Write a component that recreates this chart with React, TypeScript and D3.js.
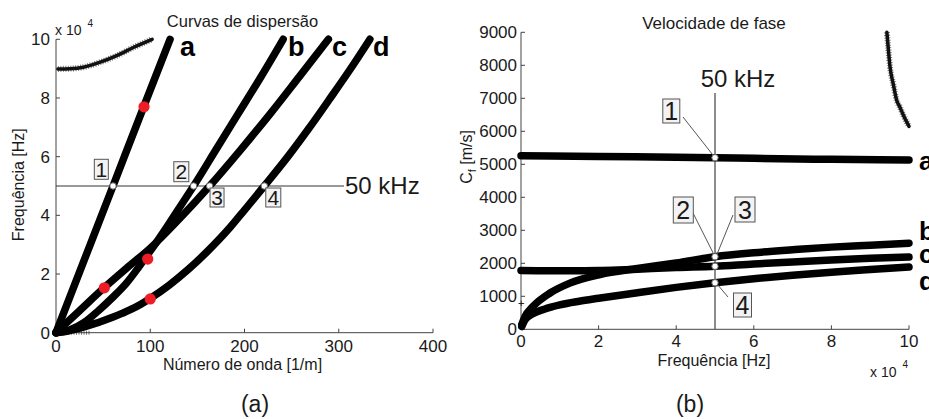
import React from "react";
import * as d3 from "d3";

// ---------- Dispersion curves: wave number k [1/m] vs frequency f [x1e4 Hz] ----------
const modeA: [number, number][] = [[0, 0], [30, 2.48], [60.5, 5], [93, 7.7], [121, 10]];
const modeB: [number, number][] = [
  [0, 0], [15, 0.1], [30, 0.35], [45, 0.75], [60, 1.2], [75, 1.7], [87, 2.2], [97, 2.65],
  [108, 3.15], [120, 3.72], [133, 4.36], [146, 5.0], [170, 6.25], [194, 7.5], [218, 8.75], [241, 10],
];
const modeC: [number, number][] = [
  [0, 0], [25, 0.75], [51, 1.53], [75, 2.2], [100, 2.88], [130, 3.85], [163, 5.0], [195, 6.2],
  [227, 7.45], [258, 8.72], [289, 10],
];
const modeD: [number, number][] = [
  [0, 0], [10, 0.04], [20, 0.11], [30, 0.2], [40, 0.3], [50, 0.41], [60, 0.53], [70, 0.66],
  [80, 0.8], [90, 0.97], [100, 1.17], [120, 1.62], [140, 2.15], [160, 2.75], [185, 3.6],
  [200, 4.18], [221, 5.0], [246, 6.0], [268, 6.95], [290, 7.95], [312, 8.97], [333, 10],
];
const modeHigh: [number, number][] = [[2, 8.99], [15, 9.0], [29, 9.05], [47, 9.22], [65, 9.45], [82, 9.72], [102, 10]];
const redDots: [number, number][] = [[51.3, 1.53], [97.3, 2.51], [100, 1.15], [93.4, 7.7]];
const kAt50kHz = [60.5, 146, 163, 221];

const kTicks = [0, 100, 200, 300, 400];
const fTicks = [0, 2, 4, 6, 8, 10];

// ---------- Phase velocity: frequency f [x1e4 Hz] vs c_f [m/s] ----------
const velA: [number, number][] = [[0, 5260], [2, 5240], [4, 5210], [5, 5200], [6, 5180], [8, 5150], [10, 5130]];
const velB: [number, number][] = [
  [0.02, 150], [0.1, 380], [0.3, 680], [0.75, 1100], [1.26, 1400], [2.04, 1660], [3, 1840],
  [4, 2010], [5, 2200], [6, 2320], [7, 2410], [8, 2490], [9, 2550], [10, 2610],
];
const velC: [number, number][] = [
  [0, 1780], [1, 1775], [2, 1780], [2.5, 1795], [3, 1820], [4, 1870], [5, 1910], [6, 1980],
  [7, 2040], [8, 2100], [9, 2150], [10, 2190],
];
const velD: [number, number][] = [
  [0.02, 80], [0.1, 280], [0.3, 470], [0.6, 610], [1, 740], [1.5, 850], [2, 940], [3, 1110],
  [4, 1270], [5, 1410], [6, 1530], [7, 1640], [8, 1730], [9, 1810], [10, 1890],
];
const velHigh: [number, number][] = [[9.43, 9000], [9.47, 8450], [9.51, 7960], [9.6, 7400], [9.68, 6950], [9.77, 6720], [9.85, 6500], [10, 6150]];
const velAt50kHz = [2200, 1910, 1410];
const vel1At50kHz = 5200;

const freqTicks = [0, 2, 4, 6, 8, 10];
const velTicks = [0, 1000, 2000, 3000, 4000, 5000, 6000, 7000, 8000, 9000];

const FONT = "'Liberation Sans', Arial, sans-serif";
const INK = "#1a1a1a";
const AXIS = "#444";

function Box({ cx, cy, w, h, label, size }: { cx: number; cy: number; w: number; h: number; label: string; size: number }) {
  return (
    <g>
      <rect x={cx - w / 2} y={cy - h / 2} width={w} height={h} fill="#f3f3f3" stroke="#555" strokeWidth={1} />
      <text x={cx} y={cy + size * 0.36} textAnchor="middle" fontSize={size} fill={INK} fontFamily={FONT}>{label}</text>
    </g>
  );
}

export default function App() {
  // left panel scales
  const xL = d3.scaleLinear().domain([0, 400]).range([56, 433]);
  const yL = d3.scaleLinear().domain([0, 10]).range([332.7, 39.3]);
  // right panel scales
  const xR = d3.scaleLinear().domain([0, 10]).range([521, 909]);
  const yR = d3.scaleLinear().domain([0, 9000]).range([329.3, 32.3]);

  const lineL = d3.line<[number, number]>().x((d) => xL(d[0])).y((d) => yL(d[1])).curve(d3.curveMonotoneX);
  const lineR = d3.line<[number, number]>().x((d) => xR(d[0])).y((d) => yR(d[1])).curve(d3.curveMonotoneX);

  const thick = { fill: "none", stroke: "#000", strokeWidth: 7.5, strokeLinecap: "round" as const, strokeLinejoin: "round" as const };
  const starry = { fill: "none", stroke: "#111", strokeWidth: 4.5, strokeLinecap: "round" as const };
  const starEdge = { fill: "none", stroke: "#222", strokeWidth: 6, strokeDasharray: "1 1.5", strokeLinecap: "butt" as const, opacity: 0.6 };

  const y50 = yL(5);
  const x50 = xR(5);

  return (
    <svg width={929} height={419} style={{ position: "absolute", left: 0, top: 0, background: "#fff" }}>
      {/* ================= (a) Curvas de dispersão ================= */}
      <text x={242.5} y={26.5} textAnchor="middle" fontSize={16.5} fill={INK} fontFamily={FONT}>Curvas de dispersão</text>

      {/* axes */}
      <line x1={xL(0)} x2={xL(0)} y1={yL(10)} y2={yL(0)} stroke={AXIS} strokeWidth={1} />
      <line x1={xL(0)} x2={xL(400)} y1={yL(0)} y2={yL(0)} stroke={AXIS} strokeWidth={1} />
      {kTicks.map((t) => (
        <g key={"kx" + t}>
          <line x1={xL(t)} x2={xL(t)} y1={yL(0)} y2={yL(0) - 4} stroke={AXIS} />
          <text x={xL(t)} y={yL(0) + 19} textAnchor="middle" fontSize={17} fill={INK} fontFamily={FONT}>{t}</text>
        </g>
      ))}
      {fTicks.map((t) => (
        <g key={"fy" + t}>
          <line x1={xL(0)} x2={xL(0) + 4} y1={yL(t)} y2={yL(t)} stroke={AXIS} />
          <text x={xL(0) - 6} y={yL(t) + 6} textAnchor="end" fontSize={17} fill={INK} fontFamily={FONT}>{t}</text>
        </g>
      ))}
      <text x={55} y={35} fontSize={14} fill={INK} fontFamily={FONT}>x 10</text>
      <text x={87.5} y={27} fontSize={10} fill={INK} fontFamily={FONT}>4</text>
      <text x={242.5} y={370} textAnchor="middle" fontSize={16} fill={INK} fontFamily={FONT}>Número de onda [1/m]</text>
      <text transform={`translate(24,184.7) rotate(-90)`} textAnchor="middle" fontSize={16} fill={INK} fontFamily={FONT}>Frequência [Hz]</text>

      {/* 50 kHz reference */}
      <line x1={xL(0)} x2={344} y1={y50} y2={y50} stroke="#333" strokeWidth={1} />
      <text x={345} y={194} fontSize={24} fill={INK} fontFamily={FONT}>50 kHz</text>

      {/* modes */}
      <path d={lineL([[0, 0], [36, 0]]) ?? ""} {...starEdge} strokeWidth={4} />
      <path d={lineL(modeHigh) ?? ""} {...starEdge} />
      <path d={lineL(modeHigh) ?? ""} {...starry} strokeWidth={3.5} />
      <path d={lineL(modeD) ?? ""} {...thick} />
      <path d={lineL(modeC) ?? ""} {...thick} />
      <path d={lineL(modeB) ?? ""} {...thick} />
      <path d={lineL(modeA) ?? ""} {...thick} />

      {redDots.map((p, i) => (
        <circle key={"rd" + i} cx={xL(p[0])} cy={yL(p[1])} r={5.6} fill="#ee1c25" />
      ))}

      {kAt50kHz.map((k, i) => (
        <circle key={"p50" + i} cx={xL(k)} cy={y50} r={3.2} fill="#fff" stroke="#666" strokeWidth={1} />
      ))}
      <Box cx={xL(kAt50kHz[0]) - 11.7} cy={y50 - 16.7} w={14} h={20} label="1" size={21} />
      <Box cx={xL(kAt50kHz[1]) - 12.3} cy={y50 - 14.3} w={15} h={20} label="2" size={21} />
      <Box cx={xL(kAt50kHz[2]) + 7.4} cy={y50 + 11.5} w={14} h={19} label="3" size={21} />
      <Box cx={xL(kAt50kHz[3]) + 9} cy={y50 + 11.5} w={15} h={19} label="4" size={21} />

      {[["a", 180], ["b", 288], ["c", 332], ["d", 373]].map(([l, x]) => (
        <text key={"la" + l} x={x as number} y={56} fontSize={27} fontWeight="bold" fill="#000" fontFamily={FONT}>{l}</text>
      ))}

      <text x={255} y={412} textAnchor="middle" fontSize={23} fill={INK} fontFamily={FONT}>(a)</text>

      {/* ================= (b) Velocidade de fase ================= */}
      <text x={714} y={28.5} textAnchor="middle" fontSize={17} fill={INK} fontFamily={FONT}>Velocidade de fase</text>

      <line x1={xR(0)} x2={xR(0)} y1={yR(9000)} y2={yR(0)} stroke={AXIS} strokeWidth={1} />
      <line x1={xR(0)} x2={xR(10)} y1={yR(0)} y2={yR(0)} stroke={AXIS} strokeWidth={1} />
      {freqTicks.map((t) => (
        <g key={"rx" + t}>
          <line x1={xR(t)} x2={xR(t)} y1={yR(0)} y2={yR(0) - 4} stroke={AXIS} />
          <text x={xR(t)} y={yR(0) + 18} textAnchor="middle" fontSize={17} fill={INK} fontFamily={FONT}>{t}</text>
        </g>
      ))}
      {velTicks.map((t) => (
        <g key={"ry" + t}>
          <line x1={xR(0)} x2={xR(0) + 4} y1={yR(t)} y2={yR(t)} stroke={AXIS} />
          <text x={xR(0) - 4} y={yR(t) + 6} textAnchor="end" fontSize={17} fill={INK} fontFamily={FONT}>{t}</text>
        </g>
      ))}
      <text x={870} y={376.5} fontSize={14} fill={INK} fontFamily={FONT}>x 10</text>
      <text x={902.5} y={368} fontSize={10} fill={INK} fontFamily={FONT}>4</text>
      <text x={714} y={366} textAnchor="middle" fontSize={16} fill={INK} fontFamily={FONT}>Frequência [Hz]</text>
      <text transform={`translate(472,157) rotate(-90)`} textAnchor="middle" fontSize={16} fill={INK} fontFamily={FONT}>
        C<tspan fontSize={11} dy={4}>f</tspan><tspan dy={-4}> [m/s]</tspan>
      </text>

      {/* 50 kHz reference */}
      <line x1={x50} x2={x50} y1={93} y2={yR(0)} stroke="#666" strokeWidth={1.5} />
      <text x={738} y={87} textAnchor="middle" fontSize={24} fill={INK} fontFamily={FONT}>50 kHz</text>

      <path d={lineR(velHigh) ?? ""} {...starEdge} />
      <path d={lineR(velHigh) ?? ""} {...starry} strokeWidth={3.5} />
      <path d={lineR(velD) ?? ""} {...thick} />
      <path d={lineR(velC) ?? ""} {...thick} />
      <path d={lineR(velB) ?? ""} {...thick} />
      <path d={lineR(velA) ?? ""} {...thick} />
      <text x={xR(0) - 3} y={yR(800) + 4} fontSize={11} fill="#222" fontFamily={FONT}>+</text>

      {/* leader lines */}
      <line x1={683} y1={117} x2={x50} y2={yR(vel1At50kHz)} stroke="#555" strokeWidth={1} />
      <line x1={693} y1={213} x2={x50} y2={yR(velAt50kHz[0])} stroke="#555" strokeWidth={1} />
      <line x1={733} y1={215} x2={x50 + 1} y2={yR(velAt50kHz[0])} stroke="#555" strokeWidth={1} />
      <line x1={728} y1={297} x2={x50 + 1} y2={yR(velAt50kHz[2])} stroke="#555" strokeWidth={1} />

      {[vel1At50kHz, ...velAt50kHz].map((v, i) => (
        <circle key={"rv" + i} cx={x50} cy={yR(v)} r={3.2} fill="#fff" stroke="#666" strokeWidth={1} />
      ))}
      <Box cx={671.3} cy={111} w={17} h={24} label="1" size={25} />
      <Box cx={683.3} cy={210} w={20} h={26} label="2" size={25} />
      <Box cx={745} cy={209.5} w={20} h={25} label="3" size={25} />
      <Box cx={742.5} cy={305} w={18} h={24} label="4" size={25} />

      {[["a", 170], ["b", 240], ["c", 263], ["d", 290]].map(([l, y]) => (
        <text key={"lb" + l} x={919} y={y as number} fontSize={26} fontWeight="bold" fill="#000" fontFamily={FONT}>{l}</text>
      ))}

      <text x={690} y={412} textAnchor="middle" fontSize={23} fill={INK} fontFamily={FONT}>(b)</text>
    </svg>
  );
}
